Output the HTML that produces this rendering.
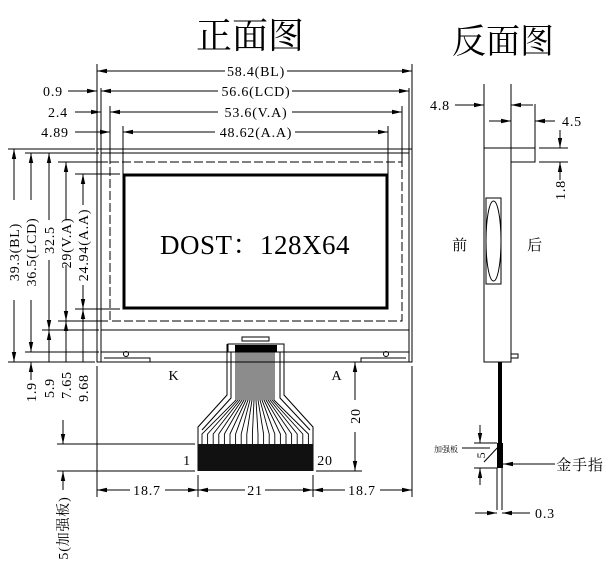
<!DOCTYPE html>
<html><head><meta charset="utf-8"><style>
html,body{margin:0;padding:0;background:#fff;}
svg{display:block;}
text{font-family:"Liberation Serif","Noto Serif CJK SC",serif;fill:#000;}
.d{letter-spacing:0.8px;}
</style></head><body>
<svg width="612" height="569" viewBox="0 0 612 569" xmlns="http://www.w3.org/2000/svg">
<defs>
<marker id="a" markerWidth="10" markerHeight="6" refX="10" refY="3" orient="auto" markerUnits="userSpaceOnUse"><path d="M0,0.8 L10,3 L0,5.2z" fill="#000"/></marker>
</defs>
<g stroke="#000" fill="none" stroke-width="1">
<line x1="97" y1="64" x2="97" y2="149"/><line x1="412" y1="64" x2="412" y2="149"/>
<line x1="225" y1="71" x2="97" y2="71" marker-end="url(#a)"/><line x1="287" y1="71" x2="412" y2="71" marker-end="url(#a)"/>
<line x1="101" y1="88" x2="101" y2="153"/><line x1="409" y1="88" x2="409" y2="153"/>
<line x1="68" y1="91" x2="97" y2="91" marker-end="url(#a)"/>
<line x1="218" y1="91" x2="101" y2="91" marker-end="url(#a)"/><line x1="292" y1="91" x2="409" y2="91" marker-end="url(#a)"/>
<line x1="110" y1="106" x2="110" y2="162"/><line x1="402" y1="106" x2="402" y2="162"/>
<line x1="75" y1="112" x2="101" y2="112" marker-end="url(#a)"/>
<line x1="218" y1="112" x2="110" y2="112" marker-end="url(#a)"/><line x1="292" y1="112" x2="402" y2="112" marker-end="url(#a)"/>
<line x1="123" y1="126" x2="123" y2="174"/><line x1="388" y1="126" x2="388" y2="174"/>
<line x1="75" y1="132" x2="110" y2="132" marker-end="url(#a)"/>
<line x1="215" y1="132" x2="123" y2="132" marker-end="url(#a)"/><line x1="295" y1="132" x2="388" y2="132" marker-end="url(#a)"/>
<rect x="97" y="149" width="315" height="213"/>
<rect x="101" y="153" width="308" height="199"/>
<rect x="110" y="162" width="292" height="159" stroke-dasharray="9,3"/>
<rect x="124" y="175" width="263" height="133" stroke-width="3"/>
<line x1="101" y1="330" x2="409" y2="330"/>
<path d="M101,352 V362 H150 V358 H104"/>
<path d="M409,352 V362 H361 V358 H406"/>
<circle cx="126" cy="354" r="2.5"/><circle cx="386" cy="354" r="2.5"/>
<line x1="8" y1="149" x2="95" y2="149"/><line x1="8" y1="362" x2="95" y2="362"/>
<line x1="25" y1="153" x2="99" y2="153"/><line x1="25" y1="352" x2="99" y2="352"/>
<line x1="58" y1="162" x2="108" y2="162"/><line x1="58" y1="321" x2="108" y2="321"/>
<line x1="75" y1="174" x2="120" y2="174"/><line x1="75" y1="309" x2="120" y2="309"/>
<line x1="42" y1="330" x2="99" y2="330"/>
<line x1="14" y1="200" x2="14" y2="149" marker-end="url(#a)"/><line x1="14" y1="300" x2="14" y2="362" marker-end="url(#a)"/>
<line x1="31" y1="200" x2="31" y2="153" marker-end="url(#a)"/><line x1="31" y1="300" x2="31" y2="352" marker-end="url(#a)"/>
<line x1="31" y1="380" x2="31" y2="362" marker-end="url(#a)"/>
<line x1="49" y1="220" x2="49" y2="153" marker-end="url(#a)"/><line x1="49" y1="260" x2="49" y2="330" marker-end="url(#a)"/>
<line x1="49" y1="345" x2="49" y2="330" marker-end="url(#a)"/><line x1="49" y1="345" x2="49" y2="362"/>
<line x1="66" y1="220" x2="66" y2="162" marker-end="url(#a)"/><line x1="66" y1="265" x2="66" y2="321" marker-end="url(#a)"/>
<line x1="66" y1="340" x2="66" y2="321" marker-end="url(#a)"/><line x1="66" y1="340" x2="66" y2="362"/>
<line x1="83" y1="205" x2="83" y2="174" marker-end="url(#a)"/><line x1="83" y1="285" x2="83" y2="309" marker-end="url(#a)"/>
<line x1="83" y1="330" x2="83" y2="309" marker-end="url(#a)"/><line x1="83" y1="330" x2="83" y2="362"/>
<line x1="97" y1="366" x2="97" y2="497"/><line x1="412" y1="366" x2="412" y2="497"/>
<rect x="242" y="337" width="27" height="4"/>
<rect x="228" y="344" width="56" height="8"/>
<polyline points="227,344 227,395 198,427 198,471"/>
<polyline points="284,344 284,395 313,427 313,471"/>
<polyline points="231,352 231,398 202,430"/>
<polyline points="280,352 280,398 310,430"/>
<line x1="57" y1="444" x2="195" y2="444"/><line x1="57" y1="471" x2="195" y2="471"/>
<line x1="316" y1="471" x2="362" y2="471"/>
<line x1="198" y1="475" x2="198" y2="497"/><line x1="313" y1="475" x2="313" y2="497"/>
<line x1="130" y1="490" x2="97" y2="490" marker-end="url(#a)"/><line x1="165" y1="490" x2="198" y2="490" marker-end="url(#a)"/>
<line x1="245" y1="490" x2="198" y2="490" marker-end="url(#a)"/><line x1="265" y1="490" x2="313" y2="490" marker-end="url(#a)"/>
<line x1="345" y1="490" x2="313" y2="490" marker-end="url(#a)"/><line x1="380" y1="490" x2="412" y2="490" marker-end="url(#a)"/>
<line x1="355" y1="400" x2="355" y2="362" marker-end="url(#a)"/><line x1="355" y1="432" x2="355" y2="471" marker-end="url(#a)"/>
<line x1="63" y1="420" x2="63" y2="444" marker-end="url(#a)"/><line x1="63" y1="490" x2="63" y2="471" marker-end="url(#a)"/>
<line x1="484" y1="84" x2="484" y2="148"/><line x1="511" y1="84" x2="511" y2="148"/>
<line x1="455" y1="105" x2="484" y2="105" marker-end="url(#a)"/><line x1="533" y1="105" x2="511" y2="105" marker-end="url(#a)"/>
<line x1="489" y1="121" x2="511" y2="121" marker-end="url(#a)"/><line x1="555" y1="121" x2="535" y2="121" marker-end="url(#a)"/>
<line x1="535" y1="104" x2="535" y2="162"/>
<rect x="484" y="148" width="27" height="214"/>
<rect x="511" y="148" width="24" height="14"/>
<line x1="539" y1="148" x2="568" y2="148"/><line x1="539" y1="162" x2="568" y2="162"/>
<line x1="560" y1="130" x2="560" y2="148" marker-end="url(#a)"/><line x1="560" y1="180" x2="560" y2="162" marker-end="url(#a)"/>
<rect x="486" y="198" width="15" height="86"/>
<ellipse cx="493.5" cy="241" rx="7.5" ry="40"/>
<rect x="511" y="354" width="7" height="4"/>
<line x1="497" y1="468" x2="497" y2="510"/><line x1="502" y1="468" x2="502" y2="510"/>
<line x1="480" y1="425" x2="480" y2="443" marker-end="url(#a)"/><line x1="480" y1="485" x2="480" y2="468" marker-end="url(#a)"/>
<line x1="474" y1="443" x2="497" y2="443"/><line x1="474" y1="468" x2="497" y2="468"/>
<line x1="462" y1="448" x2="490" y2="448"/><line x1="484" y1="462" x2="500" y2="445"/>
<line x1="555" y1="464" x2="503" y2="464" marker-end="url(#a)"/>
<line x1="475" y1="513" x2="497" y2="513" marker-end="url(#a)"/><line x1="530" y1="513" x2="502" y2="513" marker-end="url(#a)"/>
</g>
<g stroke="#000" stroke-width="0.9" fill="none">
<polyline points="236,352 236,400 202,434 202,444"/><polyline points="238,352 238,400 207.6,434 207.6,444"/>
<polyline points="240,352 240,400 213.2,434 213.2,444"/><polyline points="242,352 242,400 218.8,434 218.8,444"/>
<polyline points="244,352 244,400 224.4,434 224.4,444"/><polyline points="246,352 246,400 230,434 230,444"/>
<polyline points="248,352 248,400 235.6,434 235.6,444"/><polyline points="250,352 250,400 241.2,434 241.2,444"/>
<polyline points="252,352 252,400 246.8,434 246.8,444"/><polyline points="254,352 254,400 252.4,434 252.4,444"/>
<polyline points="256,352 256,400 258,434 258,444"/><polyline points="258,352 258,400 263.6,434 263.6,444"/>
<polyline points="260,352 260,400 269.2,434 269.2,444"/><polyline points="262,352 262,400 274.8,434 274.8,444"/>
<polyline points="264,352 264,400 280.4,434 280.4,444"/><polyline points="266,352 266,400 286,434 286,444"/>
<polyline points="268,352 268,400 291.6,434 291.6,444"/><polyline points="270,352 270,400 297.2,434 297.2,444"/>
<polyline points="272,352 272,400 302.8,434 302.8,444"/><polyline points="274,352 274,400 308.4,434 308.4,444"/>
</g>
<rect x="235" y="345" width="42" height="7" fill="#000"/>
<rect x="198" y="444" width="115" height="27" fill="#111"/>
<rect x="498" y="362" width="4" height="81" fill="#000"/>
<rect x="497" y="443" width="6" height="25" fill="#000"/>
<text x="250" y="48" font-size="36" text-anchor="middle">正面图</text>
<text x="503" y="53" font-size="34" text-anchor="middle">反面图</text>
<g font-size="14" text-anchor="middle" class="d">
<text x="256" y="76">58.4(BL)</text>
<text x="256" y="96">56.6(LCD)</text>
<text x="256" y="117">53.6(V.A)</text>
<text x="256" y="137">48.62(A.A)</text>
<text x="53" y="96">0.9</text>
<text x="58" y="117">2.4</text>
<text x="55" y="137">4.89</text>
<text x="147" y="495">18.7</text>
<text x="255" y="495">21</text>
<text x="362" y="495">18.7</text>
<text x="174" y="380">K</text>
<text x="337" y="380">A</text>
<text x="187" y="465">1</text>
<text x="325" y="465">20</text>
<text x="440" y="110">4.8</text>
<text x="572" y="126">4.5</text>
<text x="545" y="518">0.3</text>
<text x="460" y="250" font-size="15">前</text>
<text x="535" y="250" font-size="15">后</text>
<text x="580" y="470" font-size="15">金手指</text>
<text x="446" y="452" font-size="8" style="letter-spacing:0">加强板</text>
</g>
<g font-size="14" text-anchor="middle" class="d">
<text transform="translate(19,252) rotate(-90)">39.3(BL)</text>
<text transform="translate(36,252) rotate(-90)">36.5(LCD)</text>
<text transform="translate(54,240) rotate(-90)">32.5</text>
<text transform="translate(71,243) rotate(-90)">29(V.A)</text>
<text transform="translate(88,245) rotate(-90)">24.94(A.A)</text>
<text transform="translate(36,392) rotate(-90)">1.9</text>
<text transform="translate(54,388) rotate(-90)">5.9</text>
<text transform="translate(71,385) rotate(-90)">7.65</text>
<text transform="translate(88,388) rotate(-90)">9.68</text>
<text transform="translate(360,416) rotate(-90)">20</text>
<text transform="translate(68,528) rotate(-90)">5(加强板)</text>
<text transform="translate(565,190) rotate(-90)">1.8</text>
<text transform="translate(485,455) rotate(-90)" font-size="12">5</text>
</g>
<text x="255" y="254" font-size="27" text-anchor="middle" style="letter-spacing:0.5px">DOST：128X64</text>
</svg>
</body></html>
